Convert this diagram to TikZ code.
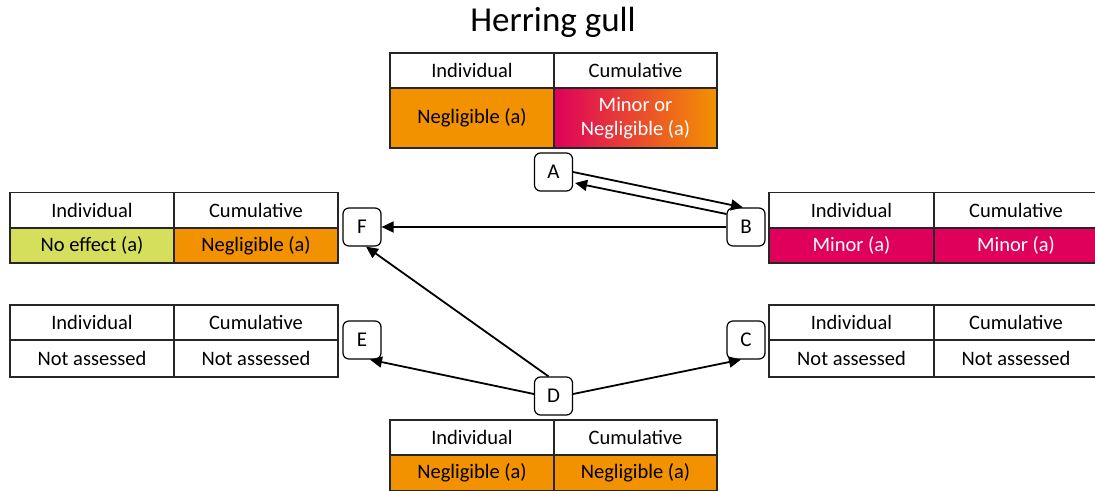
\documentclass[tikz,border=0pt]{standalone}
\usepackage{fontspec}
\setmainfont{Carlito}
\usetikzlibrary{arrows.meta}
\definecolor{ora}{HTML}{F39200}
\definecolor{mag}{HTML}{DF005C}
\definecolor{lgreen}{HTML}{D5DF5C}
\definecolor{edge}{HTML}{262626}
\tikzset{
  cell/.style={draw=edge, line width=1.2pt, inner sep=0pt, outer sep=0pt,
    minimum width=164pt, minimum height=35pt, align=center,
    font=\fontsize{20.5}{24}\selectfont},
  hdr/.style={cell, fill=white},
  lbl/.style={draw=black, line width=1.2pt, rounded corners=6pt, fill=white,
    minimum width=38pt, minimum height=38pt, inner sep=0pt,
    font=\fontsize{21}{22}\selectfont},
  conn/.style={line width=1.8pt, -{Triangle[length=12pt,width=11pt]}}
}
\begin{document}
\begin{tikzpicture}[x=1pt,y=-1pt]
\useasboundingbox (0,0) rectangle (1095,490);
\node[font=\fontsize{35}{40}\selectfont] (title) at (553,22) {Herring gull};
% top table
\node[hdr] (ti) at (472,70.5) {Individual};
\node[hdr, minimum width=163pt] (tc) at (635.5,70.5) {Cumulative};
\node[cell, fill=ora, minimum height=60pt] (tiv) at (472,118) {Negligible (a)};
\node[cell, left color=mag, right color=ora, minimum width=163pt, minimum height=60pt, text=white] (tcv) at (635.5,118) {Minor or\\Negligible (a)};
% left upper table
\node[hdr] (lui) at (92,210) {Individual};
\node[hdr] (luc) at (256,210) {Cumulative};
\node[cell, fill=lgreen] (luiv) at (92,245.5) {No effect (a)};
\node[cell, fill=ora] (lucv) at (256,245.5) {Negligible (a)};
% left lower table
\node[hdr] (lli) at (92,322.5) {Individual};
\node[hdr] (llc) at (256,322.5) {Cumulative};
\node[cell, fill=white, minimum height=37pt] (lliv) at (92,358.5) {Not assessed};
\node[cell, fill=white, minimum height=37pt] (llcv) at (256,358.5) {Not assessed};
% right upper table
\node[hdr, minimum width=165pt] (rui) at (851.5,210) {Individual};
\node[hdr] (ruc) at (1016,210) {Cumulative};
\node[cell, fill=mag, text=white, minimum width=165pt] (ruiv) at (851.5,245.5) {Minor (a)};
\node[cell, fill=mag, text=white] (rucv) at (1016,245.5) {Minor (a)};
% right lower table
\node[hdr, minimum width=165pt] (rli) at (851.5,322.5) {Individual};
\node[hdr] (rlc) at (1016,322.5) {Cumulative};
\node[cell, fill=white, minimum width=165pt, minimum height=37pt] (rliv) at (851.5,358.5) {Not assessed};
\node[cell, fill=white, minimum height=37pt] (rlcv) at (1016,358.5) {Not assessed};
% bottom table
\node[hdr] (bi) at (472,437.5) {Individual};
\node[hdr, minimum width=163pt] (bc) at (635.5,437.5) {Cumulative};
\node[cell, fill=ora, minimum height=36pt] (biv) at (472,473) {Negligible (a)};
\node[cell, fill=ora, minimum width=163pt, minimum height=36pt] (bcv) at (635.5,473) {Negligible (a)};
% label boxes
\node[lbl] (A) at (553.5,172) {A};
\node[lbl] (B) at (746,227) {B};
\node[lbl] (C) at (746,340) {C};
\node[lbl] (D) at (553.5,396) {D};
\node[lbl] (E) at (362,340) {E};
\node[lbl] (F) at (362,227) {F};
% connectors
\draw[conn] (A.east) -- ([xshift=-3pt]B.north);
\draw[conn] ([yshift=13pt]B.west) -- ([yshift=-11pt,xshift=2pt]A.east);
\draw[conn] (B.west) -- (F.east);
\draw[conn] ([xshift=-5pt]D.north) -- ([xshift=4pt]F.south);
\draw[conn] ([yshift=2pt]D.west) -- ([xshift=8pt]E.south);
\draw[conn] ([yshift=2pt]D.east) -- ([xshift=-5pt]C.south);
\end{tikzpicture}
\end{document}
